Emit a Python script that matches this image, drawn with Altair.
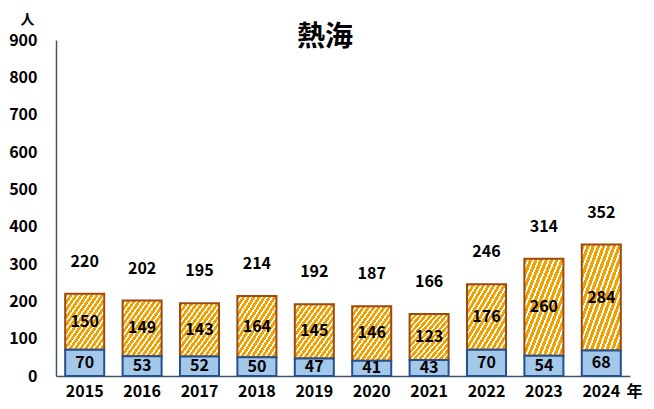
import altair as alt
import pandas as pd

years = ["2015", "2016", "2017", "2018", "2019", "2020", "2021", "2022", "2023", "2024"]
blue_vals = [70, 53, 52, 50, 47, 41, 43, 70, 54, 68]
orange_vals = [150, 149, 143, 164, 145, 146, 123, 176, 260, 284]
y_ticks = [0, 100, 200, 300, 400, 500, 600, 700, 800, 900]

df = pd.DataFrame({"year": years, "blue": blue_vals, "orange": orange_vals})
df["total"] = df["blue"] + df["orange"]
df["mid_b"] = df["blue"] / 2
df["mid_o"] = df["blue"] + df["orange"] / 2

FONT = "Noto Sans CJK JP"
ORANGE = "#F2A000"

N = 15
stops = []
for i in range(N):
    a = i / N
    b = (i + 0.62) / N
    c = (i + 1) / N
    stops += [
        {"offset": a, "color": ORANGE},
        {"offset": b, "color": ORANGE},
        {"offset": b, "color": "#FFFFFF"},
        {"offset": c, "color": "#FFFFFF"},
    ]
stripe = {"gradient": "linear", "x1": 0, "y1": 0, "x2": 1, "y2": 1, "stops": stops}

x_enc = alt.X(
    "year:O",
    sort=years,
    scale=alt.Scale(paddingInner=0.32, paddingOuter=0.16),
    axis=alt.Axis(
        title="年", titleAngle=0, titleX=578, titleY=15, titleAlign="center",
        titleBaseline="middle", titleFont=FONT, titleFontSize=16, titleFontWeight="bold",
        titleColor="#000000",
        labelAngle=0, labelFont=FONT, labelFontSize=16, labelFontWeight="bold",
        labelColor="#000000", labelPadding=7, ticks=False, tickSize=0,
        domainColor="#44546A", domainWidth=1.5, grid=False,
    ),
)
y_scale = alt.Scale(domain=[0, 900], nice=False)
y_axis = alt.Axis(
    values=y_ticks, grid=False, ticks=False, tickSize=0, labelPadding=19,
    labelOverlap=False, labelFlush=False,
    labelFont=FONT, labelFontSize=16, labelFontWeight="bold", labelColor="#000000",
    domainColor="#44546A", domainWidth=1.5,
    title="人", titleAngle=0, titleX=-29, titleY=-21, titleAlign="center",
    titleBaseline="middle", titleFont=FONT, titleFontSize=14, titleFontWeight="bold",
    titleColor="#000000",
)

base = alt.Chart(df)

orange = base.mark_bar(fill=stripe, stroke="#9C4A12", strokeWidth=2).encode(
    x=x_enc,
    y=alt.Y("total:Q", scale=y_scale, axis=y_axis),
    y2="blue:Q",
)

blue = base.mark_bar(fill="#A3C8EA", stroke="#24508F", strokeWidth=2).encode(
    x=x_enc, y=alt.Y("blue:Q", scale=y_scale, axis=y_axis)
)

txt_kw = dict(font=FONT, fontSize=16, fontWeight="bold", color="#000000", baseline="middle")

t_orange = base.mark_text(**txt_kw).encode(
    x=x_enc, y=alt.Y("mid_o:Q", scale=y_scale, axis=y_axis), text="orange:Q")
t_blue = base.mark_text(**txt_kw).encode(
    x=x_enc, y=alt.Y("mid_b:Q", scale=y_scale, axis=y_axis), text="blue:Q")
t_total = base.mark_text(dy=-32, **txt_kw).encode(
    x=x_enc, y=alt.Y("total:Q", scale=y_scale, axis=y_axis), text="total:Q")

chart = (
    alt.layer(orange, blue, t_orange, t_blue, t_total)
    .properties(
        width=574,
        height=336,
        background="#FFFFFF",
        autosize=alt.AutoSizeParams(type="none"),
        padding={"left": 48, "top": 32, "right": 16, "bottom": 25},
        title=alt.Title("熱海", font=FONT, fontSize=28, fontWeight="bold", color="#000000",
                        anchor="middle", dx=-18, dy=44),
    )
    .configure_view(stroke="transparent", strokeWidth=0)
    .configure_axis(grid=False)
)

chart.save("out.html", embed_options={"renderer": "svg", "actions": False})
